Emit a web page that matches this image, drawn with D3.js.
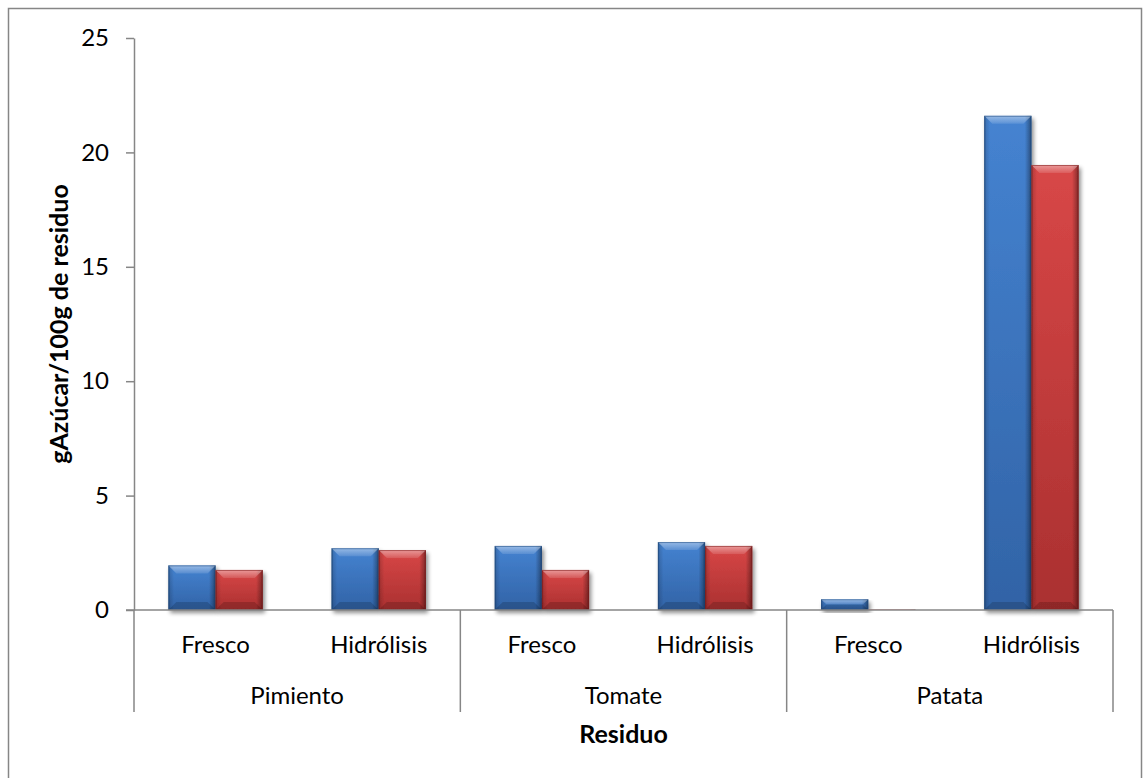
<!DOCTYPE html>
<html>
<head>
<meta charset="utf-8">
<script src="https://cdn.jsdelivr.net/npm/d3@7"></script>
<style>
  html, body { margin: 0; padding: 0; background: #ffffff; }
  svg { display: block; font-family: Lato, "Open Sans", sans-serif; }
</style>
</head>
<body>
<svg id="chart" width="1145" height="778"></svg>
<script>
// Residue groups and treatments (two-level category axis)
const groups = ["Pimiento", "Tomate", "Patata"];
const treatments = ["Fresco", "Hidrólisis"];

// Sugar content, g per 100 g of residue, in order
// Pimiento-Fresco, Pimiento-Hidrólisis, Tomate-Fresco, Tomate-Hidrólisis, Patata-Fresco, Patata-Hidrólisis
const serie1 = [1.95, 2.70, 2.80, 2.97, 0.47, 21.60];
const serie2 = [1.75, 2.62, 1.75, 2.80, 0.02, 19.45];

const yTicks = [0, 5, 10, 15, 20, 25];
const yTitle = "gAzúcar/100g de residuo";
const xTitle = "Residuo";

const svg = d3.select("#chart");
const plot = { left: 134, right: 1113, top: 38, bottom: 610, catBottom: 712 };
const axisColor = "#868686";

// chart frame
svg.append("rect")
  .attr("x", 8.5).attr("y", 8.5)
  .attr("width", 1133).attr("height", 790)
  .attr("fill", "#ffffff")
  .attr("stroke", axisColor).attr("stroke-width", 1.5);

// scales
const y = d3.scaleLinear().domain([0, 25]).range([plot.bottom, plot.top]);
const xGroup = d3.scaleBand().domain(groups).range([plot.left, plot.right]);
const xSub = d3.scaleBand().domain(treatments).range([0, xGroup.bandwidth()]);
const xBar = d3.scaleBand().domain(["s1", "s2"]).range([0, xSub.bandwidth()])
  .paddingInner(0).paddingOuter(0.729);

// flattened data
const rows = [];
groups.forEach((g, gi) => treatments.forEach((t, ti) => {
  const i = gi * treatments.length + ti;
  rows.push({ g, t, key: "s1", v: serie1[i] });
  rows.push({ g, t, key: "s2", v: serie2[i] });
}));

// gradients and shadow
const defs = svg.append("defs");
const palettes = {
  s1: { top: "#4583d1", bottom: "#3163a6", edge: "#1f4a80" },
  s2: { top: "#d84747", bottom: "#aa3030", edge: "#7d1c1c" }
};
Object.entries(palettes).forEach(([k, p]) => {
  const g = defs.append("linearGradient").attr("id", "body-" + k)
    .attr("x1", 0).attr("y1", 0).attr("x2", 0).attr("y2", 1);
  g.append("stop").attr("offset", "0%").attr("stop-color", p.top);
  g.append("stop").attr("offset", "100%").attr("stop-color", p.bottom);
});
const side = defs.append("linearGradient").attr("id", "side")
  .attr("x1", 0).attr("y1", 0).attr("x2", 1).attr("y2", 0);
[[0, 0.35], [0.04, 0.12], [0.12, 0], [0.86, 0], [0.95, 0.25], [1, 0.45]].forEach(([o, a]) =>
  side.append("stop").attr("offset", o).attr("stop-color", "#000").attr("stop-opacity", a));
const bevel = defs.append("linearGradient").attr("id", "bevel")
  .attr("x1", 0).attr("y1", 0).attr("x2", 0).attr("y2", 1);
bevel.append("stop").attr("offset", "0%").attr("stop-color", "#fff").attr("stop-opacity", 0.45);
bevel.append("stop").attr("offset", "100%").attr("stop-color", "#fff").attr("stop-opacity", 0.12);

const shadow = defs.append("filter").attr("id", "shadow")
  .attr("x", "-20%").attr("y", "-20%").attr("width", "140%").attr("height", "140%");
shadow.append("feGaussianBlur").attr("in", "SourceAlpha").attr("stdDeviation", 2.2).attr("result", "b");
shadow.append("feOffset").attr("in", "b").attr("dx", 2).attr("dy", 3).attr("result", "o");
shadow.append("feComponentTransfer").attr("in", "o").attr("result", "s")
  .append("feFuncA").attr("type", "linear").attr("slope", 0.45);
const merge = shadow.append("feMerge");
merge.append("feMergeNode").attr("in", "s");
merge.append("feMergeNode").attr("in", "SourceGraphic");

// bars
const bars = svg.append("g").selectAll("g.bar").data(rows).join("g")
  .attr("class", "bar")
  .attr("transform", d => `translate(${xGroup(d.g) + xSub(d.t) + xBar(d.key)},0)`);

bars.each(function (d) {
  const g = d3.select(this).append("g").attr("filter", "url(#shadow)");
  const w = xBar.bandwidth();
  const y0 = y(d.v), h = y(0) - y(d.v);
  if (h <= 0) return;
  const p = palettes[d.key];
  g.append("rect").attr("x", 0).attr("y", y0).attr("width", w).attr("height", h)
    .attr("fill", `url(#body-${d.key})`);
  g.append("rect").attr("x", 0).attr("y", y0).attr("width", w).attr("height", h)
    .attr("fill", "url(#side)");
  const b = Math.min(8, h / 2);
  // top bevel
  g.append("polygon")
    .attr("points", [[0, y0], [w, y0], [w - b, y0 + b], [b, y0 + b]].map(q => q.join(",")).join(" "))
    .attr("fill", "url(#bevel)");
  // bottom bevel
  g.append("polygon")
    .attr("points", [[0, y0 + h], [w, y0 + h], [w - b, y0 + h - b], [b, y0 + h - b]].map(q => q.join(",")).join(" "))
    .attr("fill", "#000000").attr("fill-opacity", 0.16);
  // outline
  g.append("rect").attr("x", 0.5).attr("y", y0 + 0.5).attr("width", w - 1).attr("height", Math.max(0, h - 1))
    .attr("fill", "none").attr("stroke", p.edge).attr("stroke-opacity", 0.55).attr("stroke-width", 1);
});

// y axis
const yAxis = d3.axisLeft(y).tickValues(yTicks).tickSize(8).tickSizeOuter(0).tickPadding(17);
const yg = svg.append("g").attr("transform", `translate(${plot.left},0)`).call(yAxis);
yg.select(".domain").attr("stroke", axisColor).attr("stroke-width", 1.5);
yg.selectAll(".tick line").attr("stroke", axisColor).attr("stroke-width", 1.5);
yg.selectAll(".tick text").attr("font-size", 24).attr("fill", "#000")
  .attr("font-family", "Lato, sans-serif");

// category axis
const cat = svg.append("g");
cat.append("line")
  .attr("x1", plot.left - 8).attr("x2", plot.right)
  .attr("y1", plot.bottom).attr("y2", plot.bottom)
  .attr("stroke", axisColor).attr("stroke-width", 1.5);
const bounds = groups.map(g => xGroup(g)).concat([xGroup(groups[groups.length - 1]) + xGroup.bandwidth()]);
cat.selectAll("line.sep").data(bounds).join("line").attr("class", "sep")
  .attr("x1", d => d).attr("x2", d => d)
  .attr("y1", plot.bottom).attr("y2", plot.catBottom)
  .attr("stroke", axisColor).attr("stroke-width", 1.5);

const sub = [];
groups.forEach(g => treatments.forEach(t => sub.push({ g, t })));
cat.selectAll("text.sub").data(sub).join("text").attr("class", "sub")
  .attr("x", d => xGroup(d.g) + xSub(d.t) + xSub.bandwidth() / 2)
  .attr("y", 653)
  .attr("text-anchor", "middle").attr("font-size", 24).attr("fill", "#000")
  .text(d => d.t);
cat.selectAll("text.grp").data(groups).join("text").attr("class", "grp")
  .attr("x", d => xGroup(d) + xGroup.bandwidth() / 2)
  .attr("y", 704)
  .attr("text-anchor", "middle").attr("font-size", 24).attr("fill", "#000")
  .text(d => d);

// axis titles
svg.append("text")
  .attr("x", (plot.left + plot.right) / 2).attr("y", 743)
  .attr("text-anchor", "middle").attr("font-size", 25).attr("font-weight", "bold")
  .attr("fill", "#000").text(xTitle);
svg.append("text")
  .attr("transform", `translate(68,${(plot.top + plot.bottom) / 2}) rotate(-90)`)
  .attr("text-anchor", "middle").attr("font-size", 25).attr("font-weight", "bold")
  .attr("fill", "#000").text(yTitle);
</script>
</body>
</html>
